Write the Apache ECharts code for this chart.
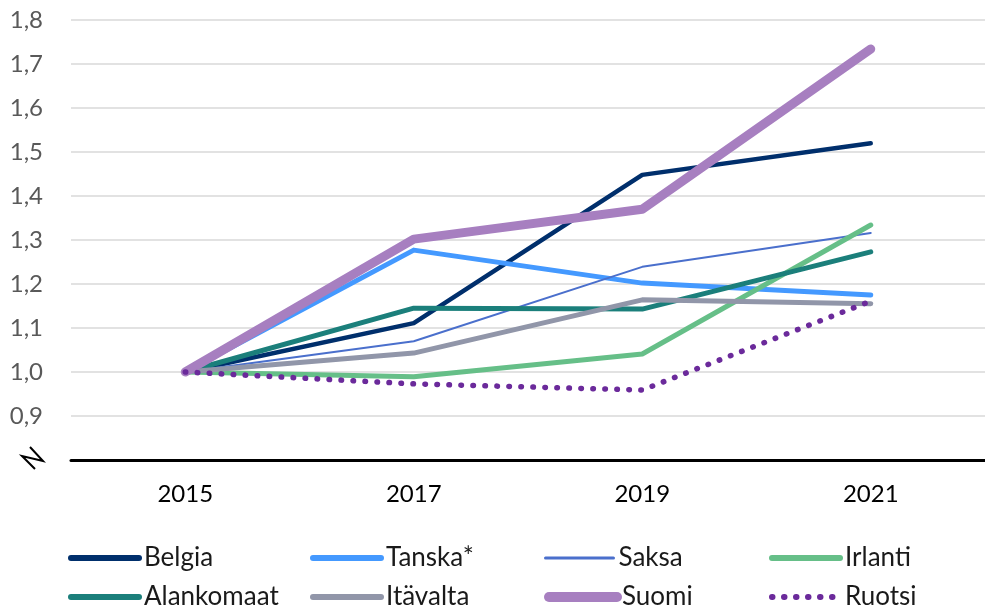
<!DOCTYPE html>
<html>
<head>
<meta charset="utf-8">
<script src="https://cdn.jsdelivr.net/npm/echarts@6/dist/echarts.min.js"></script>
<style>
  html, body { margin: 0; padding: 0; background: #fff; }
  #chart { width: 985px; height: 609px; }
</style>
</head>
<body>
<div id="chart"></div>
<script>
// vuodet
var years = ['2015', '2017', '2019', '2021']

// indeksi, 2015 = 1,0
var belgia = [1.0, 1.111, 1.448, 1.52]
var tanska = [1.0, 1.277, 1.202, 1.175]
var saksa = [1.0, 1.07, 1.239, 1.316]
var irlanti = [1.0, 0.989, 1.041, 1.334]
var alankomaat = [1.0, 1.145, 1.143, 1.273]
var itavalta = [1.0, 1.043, 1.164, 1.155]
var suomi = [1.0, 1.302, 1.37, 1.734]
var ruotsi = [1.0, 0.973, 0.959, 1.161]

var yTicks = [0.8, 0.9, 1.0, 1.1, 1.2, 1.3, 1.4, 1.5, 1.6, 1.7, 1.8]

var font = 'Lato, "Open Sans", sans-serif'

function line (name, data, color, width, extra) {
    var s = {
        name: name,
        type: 'line',
        data: data,
        symbol: 'none',
        lineStyle: { color: color, width: width, cap: 'round', join: 'round' },
        itemStyle: { color: color },
        emphasis: { disabled: true }
    }
    if (extra) s.lineStyle.type = extra
    return s
}

// yksi selite per sarja, jotta paikat saa tarkasti
function legendItem (name, left, top, width) {
    return {
        left: left,
        top: top,
        itemWidth: 68,
        itemHeight: 14,
        itemTextGap: 14,
        data: [name],
        selectedMode: false,
        lineStyle: { width: width, cap: 'round' },
        itemStyle: { opacity: 0 },
        textStyle: { fontFamily: font, fontSize: 26, color: '#1a1a1a' }
    }
}

var myChart = echarts.init(document.getElementById('chart'))
var option = {
    animation: false,
    grid: { left: 71, right: 0, top: 20, bottom: 149 },
    legend: [
        legendItem('Belgia', 63, 540, 6),
        legendItem('Tanska*', 305, 540, 6),
        legendItem('Saksa', 539, 540, 3),
        legendItem('Irlanti', 764, 540, 6),
        legendItem('Alankomaat', 63, 579, 6),
        legendItem('Itävalta', 305, 579, 6),
        legendItem('Suomi', 539, 579, 10),
        legendItem('Ruotsi', 764, 579, 6)
    ],
    xAxis: {
        type: 'category',
        data: years,
        axisLine: { lineStyle: { color: '#000', width: 3 } },
        axisTick: { show: false },
        axisLabel: { fontFamily: font, fontSize: 24, color: '#000', margin: 22 }
    },
    yAxis: {
        type: 'value',
        min: yTicks[0],
        max: yTicks[yTicks.length - 1],
        interval: 0.1,
        axisLine: { show: false },
        axisTick: { show: false },
        splitLine: { lineStyle: { color: '#d9d9d9', width: 1.5 } },
        axisLabel: {
            fontFamily: font,
            fontSize: 24,
            color: '#595959',
            margin: 28,
            formatter: function (v) {
                if (Math.abs(v - 0.8) < 1e-6) return ''
                return v.toFixed(1).replace('.', ',')
            }
        }
    },
    graphic: [{
        type: 'polyline',
        shape: { points: [[30, 447], [43, 461], [22, 456], [35, 469]] },
        style: { stroke: '#000', lineWidth: 2, fill: null }
    }],
    series: [
        line('Belgia', belgia, '#002f6c', 4.5),
        line('Tanska*', tanska, '#4499ff', 5),
        line('Saksa', saksa, '#4a6fcc', 2),
        line('Irlanti', irlanti, '#66bf88', 5),
        line('Alankomaat', alankomaat, '#1b7f7b', 5),
        line('Itävalta', itavalta, '#9196a9', 5),
        line('Suomi', suomi, '#a77fc0', 9),
        line('Ruotsi', ruotsi, '#6b2a9b', 5.5, [0.5, 11.5])
    ]
}
myChart.setOption(option)
</script>
</body>
</html>
